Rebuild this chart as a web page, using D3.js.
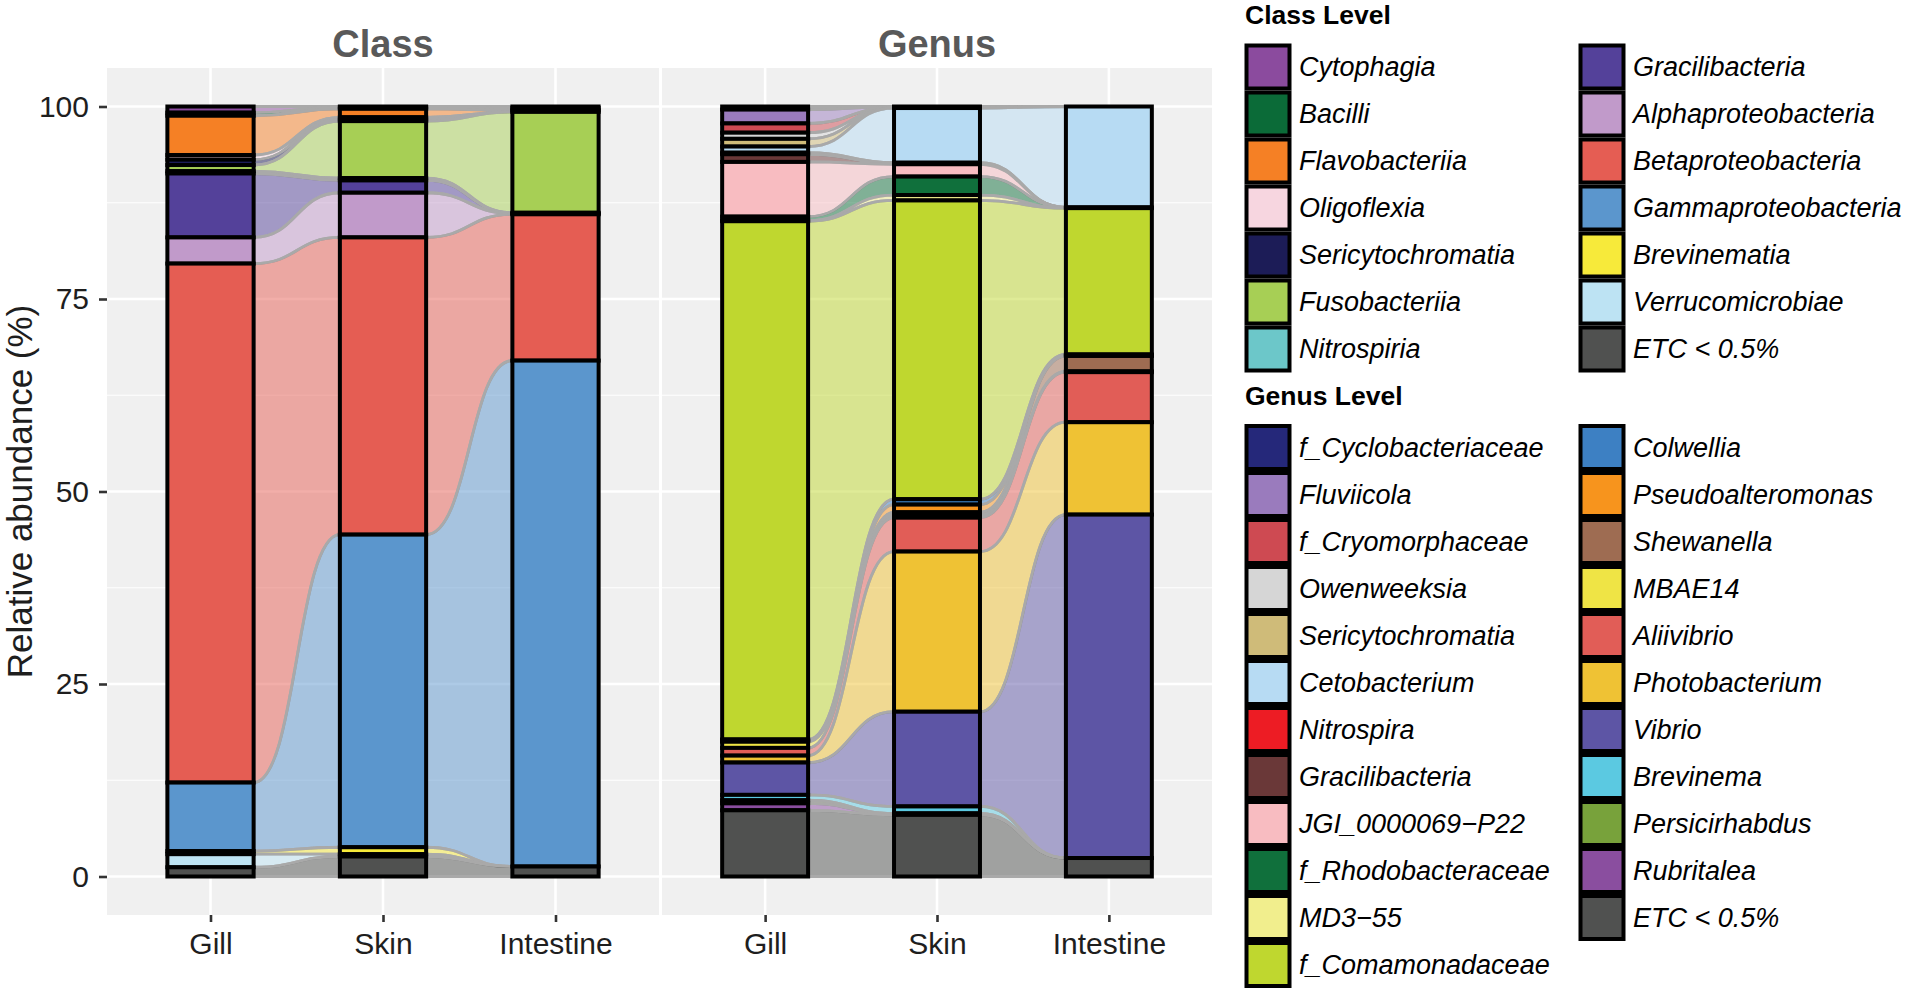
<!DOCTYPE html>
<html>
<head>
<meta charset="utf-8">
<script src="https://cdn.jsdelivr.net/npm/d3@7"></script>
<style>
  body { margin: 0; background: #fff; }
  text { font-family: "Liberation Sans", Arial, Helvetica, sans-serif; }
</style>
</head>
<body>
<svg id="chart" width="1907" height="993"></svg>
<script>
// ---- data (percent, stacked top -> bottom in legend order) ----
const SITES = ['Gill', 'Skin', 'Intestine'];
const Y_TICKS = [0, 25, 50, 75, 100];

const CLASS_TAXA = ['Cytophagia', 'Bacilli', 'Flavobacteriia', 'Oligoflexia', 'Sericytochromatia',
  'Fusobacteriia', 'Nitrospiria', 'Gracilibacteria', 'Alphaproteobacteria', 'Betaproteobacteria',
  'Gammaproteobacteria', 'Brevinematia', 'Verrucomicrobiae', 'ETC < 0.5%'];
const CLASS_GILL =      [0.8, 0.4, 5.1, 0.6, 0.7, 0.8, 0.3, 8.3, 3.4, 67.4, 8.9, 0.4, 1.7, 1.2];
const CLASS_SKIN =      [0.1, 0.2, 1.1, 0.3, 0.2, 7.4, 0.3, 1.6, 5.8, 38.6, 40.6, 0.9, 0.3, 2.6];
const CLASS_INTESTINE = [0.2, 0.3, 0.2, 0, 0, 13.1, 0, 0.1, 0.1, 19.0, 65.7, 0, 0, 1.3];
const CLASS_COLORS = ['#8b4b9e', '#0b6b38', '#f58025', '#f7d6e0', '#1c1c57', '#a7cf55', '#6cc7c9',
  '#54419a', '#c19aca', '#e55d53', '#5b96cd', '#f7ea3a', '#bde3f3', '#505150'];

const GENUS_TAXA = ['f_Cyclobacteriaceae', 'Fluviicola', 'f_Cryomorphaceae', 'Owenweeksia',
  'Sericytochromatia', 'Cetobacterium', 'Nitrospira', 'Gracilibacteria', 'JGI_0000069\u2212P22',
  'f_Rhodobacteraceae', 'MD3\u221255', 'f_Comamonadaceae', 'Colwellia', 'Pseudoalteromonas',
  'Shewanella', 'MBAE14', 'Aliivibrio', 'Photobacterium', 'Vibrio', 'Brevinema',
  'Persicirhabdus', 'Rubritalea', 'ETC < 0.5%'];
const GENUS_GILL =      [0.4, 1.8, 1.2, 0.8, 1.0, 0.8, 0.2, 1.0, 7.1, 0.5, 0.1, 67.3,
  0.1, 0.1, 0.1, 0.8, 1.0, 0.9, 4.2, 0.7, 0.4, 0.9, 8.6];
const GENUS_SKIN =      [0, 0.1, 0.1, 0, 0, 7.1, 0.1, 0.1, 1.6, 2.4, 0.7, 38.8,
  0.7, 1.0, 0.4, 0.3, 4.4, 20.8, 12.3, 0.9, 0.1, 0.1, 8.0];
const GENUS_INTESTINE = [0, 0, 0, 0, 0, 13.1, 0, 0, 0, 0.1, 0, 19.0,
  0.1, 0.1, 2.0, 0.1, 6.5, 12.0, 44.6, 0, 0, 0, 2.4];
const GENUS_COLORS = ['#25287a', '#9a7bbd', '#ce4a52', '#d6d6d6', '#cfbb79', '#b7dbf3', '#ed1c24',
  '#6a3838', '#f8bcc1', '#10703c', '#f1ee8d', '#bfd72f', '#3d80c3', '#f7941d', '#9e6c52',
  '#efe445', '#e15d57', '#efc234', '#5d55a5', '#5bc9e1', '#78a23b', '#8a4e9f', '#505150'];

// ---- layout ----
const PANEL_TOP = 68;
const PANEL_BOTTOM = 915;
const TEXT_DARK = '#1e1e1e';

const svg = d3.select('#chart');

const y = d3.scaleLinear()
  .domain([-5, 105])
  .range([PANEL_BOTTOM, PANEL_TOP]);

// cumulative extents per site, stacked from 0 upward (last taxon at the bottom)
function stackSite(values) {
  const out = new Array(values.length);
  let bot = 0;
  for (let k = values.length - 1; k >= 0; k--) {
    out[k] = { bot, top: bot + values[k] };
    bot += values[k];
  }
  return out;
}

function flowPath(x0, x1, a, b) {
  const xm = (x0 + x1) / 2;
  const p = d3.path();
  p.moveTo(x0, y(a.top));
  p.bezierCurveTo(xm, y(a.top), xm, y(b.top), x1, y(b.top));
  p.lineTo(x1, y(b.bot));
  p.bezierCurveTo(xm, y(b.bot), xm, y(a.bot), x0, y(a.bot));
  p.closePath();
  return p.toString();
}

function drawPanel(title, x0, x1, colors, siteValues, withYAxis) {
  const x = d3.scalePoint()
    .domain(SITES)
    .range([x0, x1])
    .padding(0.6);
  const bw = x.step() * 0.5;
  const g = svg.append('g');

  g.append('rect')
    .attr('x', x0).attr('y', PANEL_TOP)
    .attr('width', x1 - x0).attr('height', PANEL_BOTTOM - PANEL_TOP)
    .attr('fill', '#f0f0f0');

  const minor = d3.range(0, 4).map(i => Y_TICKS[i] + 12.5);
  g.selectAll('.minor').data(minor).enter().append('line')
    .attr('x1', x0).attr('x2', x1)
    .attr('y1', d => y(d)).attr('y2', d => y(d))
    .attr('stroke', '#fff').attr('stroke-width', 1.2);
  g.selectAll('.major').data(Y_TICKS).enter().append('line')
    .attr('x1', x0).attr('x2', x1)
    .attr('y1', d => y(d)).attr('y2', d => y(d))
    .attr('stroke', '#fff').attr('stroke-width', 2.6);
  g.selectAll('.vmajor').data(SITES).enter().append('line')
    .attr('x1', d => x(d)).attr('x2', d => x(d))
    .attr('y1', PANEL_TOP).attr('y2', PANEL_BOTTOM)
    .attr('stroke', '#fff').attr('stroke-width', 2.6);

  const stacks = siteValues.map(stackSite);

  // alluvia between neighbouring sites
  for (let i = 0; i < SITES.length - 1; i++) {
    const fx0 = x(SITES[i]) + bw / 2;
    const fx1 = x(SITES[i + 1]) - bw / 2;
    g.append('g').selectAll('path')
      .data(colors)
      .enter().append('path')
      .attr('d', (c, k) => flowPath(fx0, fx1, stacks[i][k], stacks[i + 1][k]))
      .attr('fill', c => c)
      .attr('fill-opacity', 0.5)
      .attr('stroke', '#a9a9a9')
      .attr('stroke-width', 2.8);
  }

  // strata
  SITES.forEach((site, i) => {
    g.append('g').selectAll('rect')
      .data(stacks[i])
      .enter().append('rect')
      .attr('x', x(site) - bw / 2)
      .attr('y', d => y(d.top))
      .attr('width', bw)
      .attr('height', d => y(d.bot) - y(d.top))
      .attr('fill', (d, k) => colors[k])
      .attr('stroke', '#000')
      .attr('stroke-width', 4);
  });

  // x axis
  const xAxis = g.append('g')
    .attr('transform', `translate(0,${PANEL_BOTTOM})`)
    .call(d3.axisBottom(x).tickSize(7).tickPadding(11));
  xAxis.select('.domain').remove();
  xAxis.selectAll('line').attr('stroke', '#333').attr('stroke-width', 2.6);
  xAxis.selectAll('text')
    .attr('font-size', 30).attr('fill', TEXT_DARK)
    .style('font-family', '"Liberation Sans", Arial, sans-serif');

  if (withYAxis) {
    const yAxis = g.append('g')
      .attr('transform', `translate(${x0},0)`)
      .call(d3.axisLeft(y).tickValues(Y_TICKS).tickSize(8).tickPadding(10));
    yAxis.select('.domain').remove();
    yAxis.selectAll('line').attr('stroke', '#333').attr('stroke-width', 2.6);
    yAxis.selectAll('text')
      .attr('font-size', 30).attr('fill', TEXT_DARK)
      .style('font-family', '"Liberation Sans", Arial, sans-serif');
  }

  g.append('text')
    .attr('x', (x0 + x1) / 2).attr('y', 57)
    .attr('text-anchor', 'middle')
    .attr('font-size', 38).attr('font-weight', 'bold')
    .attr('fill', '#595959')
    .text(title);
}

drawPanel('Class', 107, 659, CLASS_COLORS,
  [CLASS_GILL, CLASS_SKIN, CLASS_INTESTINE], true);
drawPanel('Genus', 662, 1212, GENUS_COLORS,
  [GENUS_GILL, GENUS_SKIN, GENUS_INTESTINE], false);

svg.append('text')
  .attr('transform', `translate(32,${y(50)}) rotate(-90)`)
  .attr('text-anchor', 'middle')
  .attr('font-size', 35)
  .attr('fill', TEXT_DARK)
  .text('Relative abundance (%)');

// ---- legends ----
const KEY_COLS = [1245, 1579];
const LABEL_OFFSET = 54;
const ROW_STEP = 47;

function drawLegend(title, taxa, colors, titleBaseline, firstRow) {
  const g = svg.append('g');
  g.append('text')
    .attr('x', 1245).attr('y', titleBaseline)
    .attr('font-size', 26.5).attr('font-weight', 'bold')
    .attr('fill', '#000')
    .text(title);

  const perCol = Math.ceil(taxa.length / 2);
  const item = g.selectAll('.item')
    .data(taxa)
    .enter().append('g')
    .attr('transform', (d, i) => {
      const col = Math.floor(i / perCol);
      const row = i % perCol;
      return `translate(${KEY_COLS[col]},${firstRow + row * ROW_STEP})`;
    });

  item.append('rect')
    .attr('x', 1.5).attr('y', -21.5)
    .attr('width', 43).attr('height', 43)
    .attr('fill', (d, i) => colors[i])
    .attr('stroke', '#000')
    .attr('stroke-width', 4);

  item.append('text')
    .attr('x', LABEL_OFFSET).attr('dy', '0.35em')
    .attr('font-size', 27).attr('font-style', 'italic')
    .attr('fill', '#000')
    .text(d => d);
}

drawLegend('Class Level', CLASS_TAXA, CLASS_COLORS, 24, 67);
drawLegend('Genus Level', GENUS_TAXA, GENUS_COLORS, 405, 447.5);
</script>
</body>
</html>
